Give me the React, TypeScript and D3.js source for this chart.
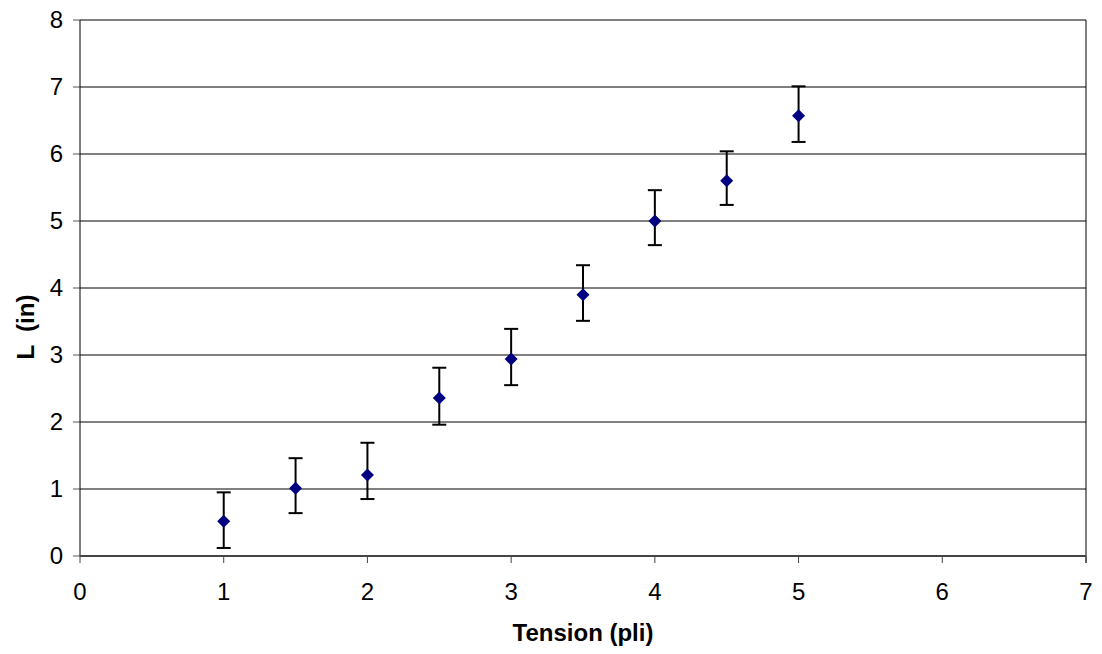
import React from "react";
import * as d3 from "d3";

const tensions = [1, 1.5, 2, 2.5, 3, 3.5, 4, 4.5, 5];
const lengths = [0.52, 1.01, 1.21, 2.36, 2.94, 3.9, 5.0, 5.6, 6.57];
const upperVals = [0.95, 1.46, 1.69, 2.81, 3.39, 4.34, 5.46, 6.04, 7.01];
const lowerVals = [0.12, 0.64, 0.85, 1.96, 2.55, 3.51, 4.64, 5.24, 6.18];
const xTicks = [0, 1, 2, 3, 4, 5, 6, 7];
const yTicks = [0, 1, 2, 3, 4, 5, 6, 7, 8];

const W = 1102, H = 654;
const L = 80, R = 1086, T = 20, B = 556;

export default function App() {
  const x = d3.scaleLinear().domain([0, 7]).range([L, R]);
  const y = d3.scaleLinear().domain([0, 8]).range([B, T]);
  const font = "'Liberation Sans', Arial, sans-serif";
  const d = 6.5;
  return (
    <svg width={W} height={H} style={{ position: "absolute", left: 0, top: 0, background: "#fff" }}>
      {yTicks.map((t) => (
        <g key={"y" + t}>
          {t > 0 && <line x1={L} x2={R} y1={y(t)} y2={y(t)} stroke="#000" strokeWidth={1} />}
          <line x1={L - 7} x2={L} y1={y(t)} y2={y(t)} stroke="#555" strokeWidth={1} />
          <text x={L - 17} y={y(t) + 8} textAnchor="end" fontFamily={font} fontSize={24}>{t}</text>
        </g>
      ))}
      <line x1={L} x2={L} y1={T} y2={B} stroke="#000" strokeWidth={1} />
      <line x1={R} x2={R} y1={T} y2={B + 7} stroke="#000" strokeWidth={1} />
      <line x1={L} x2={R} y1={B} y2={B} stroke="#444" strokeWidth={2} />
      {xTicks.map((t) => (
        <g key={"x" + t}>
          <line x1={x(t)} x2={x(t)} y1={B} y2={B + 7} stroke="#444" strokeWidth={1} />
          <text x={x(t)} y={B + 44} textAnchor="middle" fontFamily={font} fontSize={24}>{t}</text>
        </g>
      ))}
      {tensions.map((t, i) => (
        <g key={"p" + i}>
          <line x1={x(t)} x2={x(t)} y1={y(upperVals[i])} y2={y(lowerVals[i])} stroke="#000" strokeWidth={2} />
          <line x1={x(t) - 7} x2={x(t) + 7} y1={y(upperVals[i])} y2={y(upperVals[i])} stroke="#000" strokeWidth={2} />
          <line x1={x(t) - 7} x2={x(t) + 7} y1={y(lowerVals[i])} y2={y(lowerVals[i])} stroke="#000" strokeWidth={2} />
          <path
            d={`M${x(t)},${y(lengths[i]) - d}L${x(t) + d},${y(lengths[i])}L${x(t)},${y(lengths[i]) + d}L${x(t) - d},${y(lengths[i])}Z`}
            fill="#000080"
          />
        </g>
      ))}
      <text x={(L + R) / 2} y={641} textAnchor="middle" fontFamily={font} fontSize={24} fontWeight="bold">Tension (pli)</text>
      <text transform={`translate(34,327) rotate(-90)`} textAnchor="middle" fontFamily={font} fontSize={24} fontWeight="bold" xmlSpace="preserve">L  (in)</text>
    </svg>
  );
}
